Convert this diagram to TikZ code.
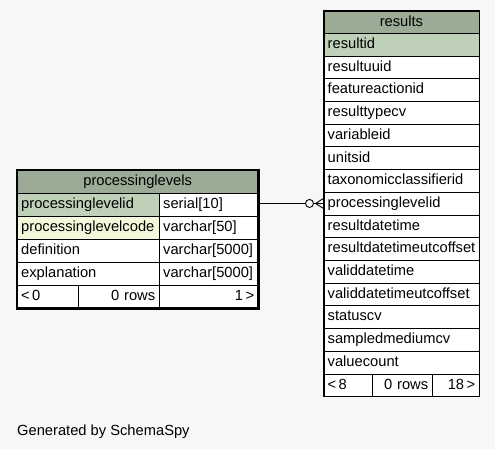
\documentclass[tikz,border=0pt]{standalone}
\usepackage{fontspec}
\setmainfont{Liberation Sans}
\usepackage{tikz}
\definecolor{bgcanvas}{HTML}{F7F7F7}
\definecolor{headgreen}{HTML}{9BAB96}
\definecolor{keygreen}{HTML}{BED1B8}
\definecolor{idxyellow}{HTML}{F4F7DA}
\tikzstyle{cell}=[draw=black, fill=white, anchor=north west, inner xsep=4pt, inner ysep=0pt, text height=10.5pt, text depth=2.5pt, align=left, font=\fontsize{14.7}{16}\selectfont]
\tikzstyle{plcell}=[cell, minimum height=23pt]
\tikzstyle{rescell}=[cell, minimum height=22.7pt, text width=147.5pt]

\begin{document}
\begin{tikzpicture}[x=1pt, y=-1pt]
		\useasboundingbox[fill=bgcanvas] (0,0) rectangle (495,449);
		% processinglevels
		\node[plcell, fill=headgreen, text width=233pt, align=center] (pltitle) at (17,170) {processinglevels};
		\node[plcell, fill=keygreen, text width=134pt] (plidname) at (17,193) {processinglevelid};
		\node[plcell, text width=91pt] (plidtype) at (159,193) {serial[10]};
		\node[plcell, fill=idxyellow, text width=134pt] (plcodename) at (17,216) {processinglevelcode};
		\node[plcell, text width=91pt] (plcodetype) at (159,216) {varchar[50]};
		\node[plcell, text width=134pt] (pldefname) at (17,239) {definition};
		\node[plcell, text width=91pt] (pldeftype) at (159,239) {varchar[5000]};
		\node[plcell, text width=134pt] (plexpname) at (17,262) {explanation};
		\node[plcell, text width=91pt] (plexptype) at (159,262) {varchar[5000]};
		\node[plcell, text width=53pt] (plfoota) at (17,285) {<\,0};
		\node[plcell, text width=73pt, align=right] (plfootb) at (78,285) {0 rows};
		\node[plcell, text width=91pt, align=right] (plfootc) at (159,285) {1\,>};
		\draw[line width=2.5pt] (pltitle.north west) rectangle (plfootc.south east);
		% results
		\node[rescell, fill=headgreen, minimum height=22pt, align=center] (r0) at (323.5,11) {results};
		\node[rescell, fill=keygreen] (r1) at (323.5,33) {resultid};
		\foreach \col [count=\i from 2] in {resultuuid, featureactionid, resulttypecv, variableid, unitsid, taxonomicclassifierid, processinglevelid, resultdatetime, resultdatetimeutcoffset, validdatetime, validdatetimeutcoffset, statuscv, sampledmediumcv, valuecount}
			\node[rescell] (r\i) at (323.5, {33+(\i-1)*22.7}) {\col};
		\node[rescell, text width=40.5pt] (rfoota) at (323.5,373.5) {<\,8};
		\node[rescell, text width=52pt, align=right] (rfootb) at (372,373.5) {0 rows};
		\node[rescell, text width=39pt, align=right] (rfootc) at (432,373.5) {18\,>};
		\draw[line width=1.2pt] (r0.north west) rectangle (rfootc.south east);
		% link
		\draw[line width=0.9pt] (plidtype.east |- r8.west) -- (r8.west);
		\draw[line width=0.9pt, fill=bgcanvas] ([xshift=-14pt]r8.west) circle (4pt);
		\draw[line width=0.9pt] ([yshift=5pt]r8.west) -- ([xshift=-8pt]r8.west) -- ([yshift=-5pt]r8.west);
		\node[anchor=west, inner sep=0pt, font=\fontsize{14.7}{16}\selectfont] (credit) at (17,432) {Generated by SchemaSpy};
	\end{tikzpicture}
\end{document}
